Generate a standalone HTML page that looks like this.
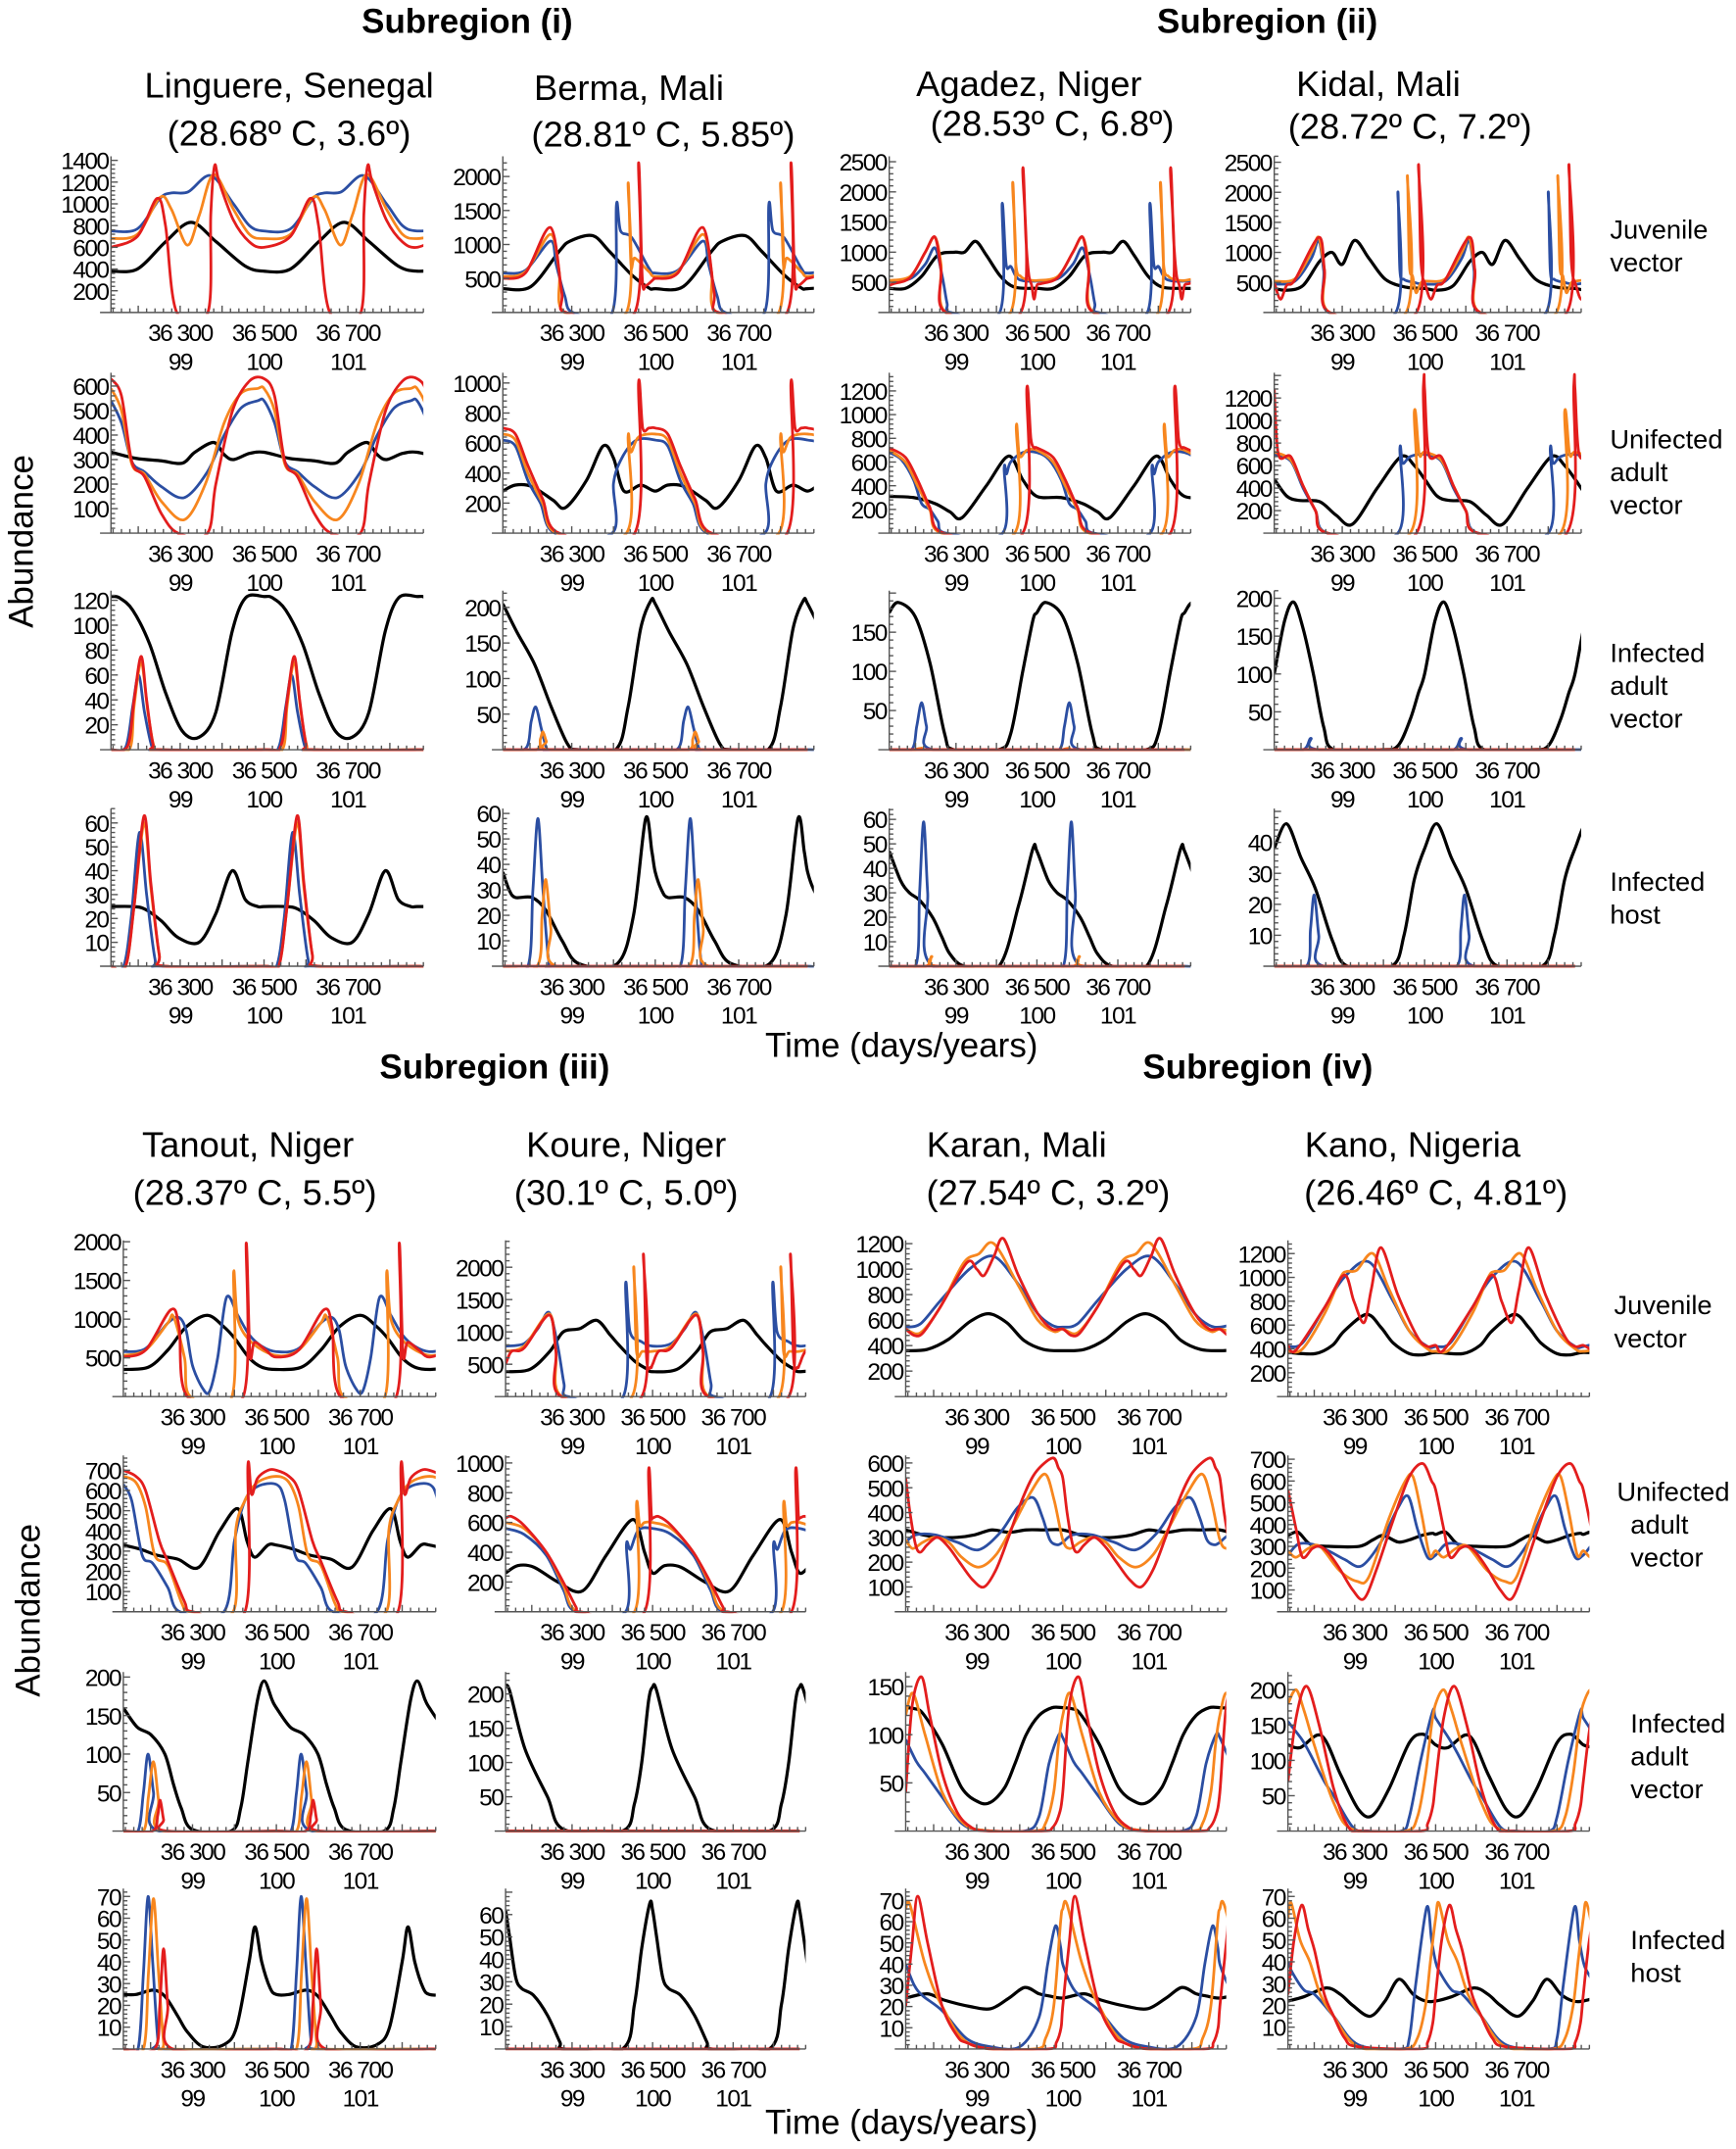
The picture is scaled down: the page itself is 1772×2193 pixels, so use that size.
<!DOCTYPE html>
<html><head><meta charset="utf-8">
<style>
html,body{margin:0;padding:0;background:#fff;}
svg{display:block;}
text{font-family:"Liberation Sans",Arial,sans-serif;fill:#000;}
.tk{font-size:17.5px;letter-spacing:-1.1px;}
.ttl{font-size:26px;}
.hdr{font-size:25px;font-weight:bold;}
.rl{font-size:19.5px;}
.ax{font-size:25px;}
</style></head>
<body>
<svg id="fig" width="1772" height="2193" viewBox="0 0 1267 1568" preserveAspectRatio="none" xmlns="http://www.w3.org/2000/svg">
<text class="hdr" x="341" y="24" text-anchor="middle">Subregion (i)</text>
<text class="hdr" x="925" y="24" text-anchor="middle">Subregion (ii)</text>
<text class="hdr" x="361" y="787" text-anchor="middle">Subregion (iii)</text>
<text class="hdr" x="918" y="787" text-anchor="middle">Subregion (iv)</text>

<g>
<text class="ttl" x="211" y="71" text-anchor="middle">Linguere, Senegal</text>
<text class="ttl" x="211" y="106" text-anchor="middle">(28.68º C, 3.6º)</text>
<text class="ttl" x="459" y="73" text-anchor="middle">Berma,  Mali</text>
<text class="ttl" x="484" y="107" text-anchor="middle">(28.81º C, 5.85º)</text>
<text class="ttl" x="751" y="70" text-anchor="middle">Agadez, Niger</text>
<text class="ttl" x="768" y="99" text-anchor="middle">(28.53º C, 6.8º)</text>
<text class="ttl" x="1006" y="70" text-anchor="middle">Kidal, Mali</text>
<text class="ttl" x="1029" y="101" text-anchor="middle">(28.72º C, 7.2º)</text>
<text class="ttl" x="181" y="844" text-anchor="middle">Tanout, Niger</text>
<text class="ttl" x="186" y="879" text-anchor="middle">(28.37º C, 5.5º)</text>
<text class="ttl" x="457" y="844" text-anchor="middle">Koure, Niger</text>
<text class="ttl" x="457" y="879" text-anchor="middle">(30.1º C, 5.0º)</text>
<text class="ttl" x="742" y="844" text-anchor="middle">Karan, Mali</text>
<text class="ttl" x="765" y="879" text-anchor="middle">(27.54º C, 3.2º)</text>
<text class="ttl" x="1031" y="844" text-anchor="middle">Kano, Nigeria</text>
<text class="ttl" x="1048" y="879" text-anchor="middle">(26.46º C, 4.81º)</text>
</g>

<g>
<text class="rl" x="1175" y="174">Juvenile<tspan x="1175" dy="24">vector</tspan></text>
<text class="rl" x="1175" y="327">Unifected<tspan x="1175" dy="24">adult</tspan><tspan x="1175" dy="24">vector</tspan></text>
<text class="rl" x="1175" y="483">Infected<tspan x="1175" dy="24">adult</tspan><tspan x="1175" dy="24">vector</tspan></text>
<text class="rl" x="1175" y="650">Infected<tspan x="1175" dy="24">host</tspan></text>
<text class="rl" x="1178" y="959">Juvenile<tspan x="1178" dy="24">vector</tspan></text>
<text class="rl" x="1180" y="1095">Unifected<tspan x="1190" dy="24">adult</tspan><tspan x="1190" dy="24">vector</tspan></text>
<text class="rl" x="1190" y="1264">Infected<tspan x="1190" dy="24">adult</tspan><tspan x="1190" dy="24">vector</tspan></text>
<text class="rl" x="1190" y="1422">Infected<tspan x="1190" dy="24">host</tspan></text>
</g>

<text class="ax" transform="translate(24,395) rotate(-90)" text-anchor="middle">Abundance</text>
<text class="ax" transform="translate(29,1175) rotate(-90)" text-anchor="middle">Abundance</text>
<text class="ax" x="658" y="771" text-anchor="middle">Time (days/years)</text>
<text class="ax" x="658" y="1557" text-anchor="middle">Time (days/years)</text>
<g id="panels"></g>
</svg>
<script>
// ---- data: [day within yearly cycle, abundance] ----
const linguereJuvBlack=[[0,380],[63,400],[130,650],[191,830],[251,650],[319,430],[365,380]];
const linguereJuvBlue=[[0,750],[63,770],[117,1050],[144,1100],[184,1110],[238,1260],[292,1000],[330,800],[365,750]];
const linguereJuvOrange=[[0,680],[63,720],[117,1060],[144,950],[182,620],[211,900],[245,1270],[292,950],[330,720],[365,680]];
const linguereJuvRed=[[0,600],[63,700],[110,1050],[130,800],[157,0],[231,0],[238,900],[247,1350],[258,1200],[292,850],[330,650],[365,600]];

const bermaJuvBlack=[[0,350],[67,380],[135,900],[161,1050],[215,1130],[255,900],[309,550],[350,360],[365,350]];
const bermaJuvBlue=[[0,580],[54,620],[114,1050],[128,700],[148,250],[168,0],[262,0],[272,1580],[282,1200],[309,1100],[350,650],[365,580]];
const bermaJuvOrange=[[0,530],[54,600],[114,1150],[135,600],[148,0],[296,0],[300,1900],[307,700],[316,800],[350,600],[365,530]];
const bermaJuvRed=[[0,500],[54,580],[114,1250],[141,300],[152,0],[316,0],[325,2200],[334,500],[343,400],[363,500],[365,500]];

const agadezJuvBlack=[[0,400],[40,400],[80,600],[120,950],[162,1000],[186,1000],[213,1180],[240,950],[275,600],[310,420],[365,400]];
const agadezJuvBlue=[[0,520],[52,560],[89,800],[113,1070],[131,600],[143,150],[152,0],[273,0],[279,1800],[289,800],[301,760],[320,550],[365,520]];
const agadezJuvOrange=[[0,530],[52,600],[89,1000],[113,1250],[128,800],[140,0],[300,0],[305,2150],[313,800],[325,600],[340,550],[365,530]];
const agadezJuvRed=[[0,450],[12,480],[52,580],[89,1000],[113,1250],[128,700],[140,0],[325,0],[330,2380],[338,1200],[345,620],[352,450],[358,220],[365,450]];

const kidalJuvBlack=[[0,400],[30,370],[70,450],[110,850],[140,1000],[165,800],[195,1200],[230,900],[270,550],[320,420],[365,400]];
const kidalJuvBlue=[[0,470],[50,520],[90,900],[108,1200],[120,700],[132,0],[295,0],[300,2000],[305,700],[315,550],[340,500],[365,470]];
const kidalJuvOrange=[[0,520],[50,560],[90,1000],[108,1250],[122,700],[135,0],[320,0],[323,2270],[328,800],[336,600],[344,330],[355,480],[365,520]];
const kidalJuvRed=[[0,500],[15,220],[30,450],[50,540],[108,1250],[122,700],[135,0],[345,0],[350,2450],[355,1000],[360,600],[365,500]];

const linguereUninfBlack=[[0,330],[60,305],[120,295],[170,285],[200,330],[245,370],[270,320],[292,300],[330,325],[365,330]];
const linguereUninfBlue=[[0,540],[25,450],[50,290],[80,250],[120,190],[175,145],[230,250],[270,400],[310,510],[350,540],[365,540]];
const linguereUninfOrange=[[0,590],[25,500],[50,280],[80,240],[120,130],[175,55],[225,200],[270,450],[310,570],[350,590],[365,590]];
const linguereUninfRed=[[0,630],[25,560],[50,290],[80,230],[120,80],[160,0],[230,0],[250,200],[290,500],[330,620],[365,630]];

const bermaUninfBlack=[[0,280],[30,320],[70,310],[120,220],[150,170],[200,350],[240,580],[265,500],[290,280],[330,320],[365,280]];
const bermaUninfBlue=[[0,620],[30,580],[60,350],[90,200],[125,0],[262,0],[265,330],[285,500],[320,620],[365,620]];
const bermaUninfOrange=[[0,660],[30,620],[60,400],[95,200],[130,0],[296,0],[300,640],[307,540],[325,640],[365,660]];
const bermaUninfRed=[[0,700],[30,660],[60,450],[95,230],[135,0],[316,0],[325,1000],[335,700],[350,700],[365,700]];

const agadezUninfBlack=[[0,310],[60,300],[113,250],[150,180],[180,130],[240,400],[295,650],[330,450],[365,310]];
const agadezUninfBlue=[[0,680],[30,620],[60,450],[80,250],[100,200],[120,100],[140,0],[280,0],[284,550],[290,500],[300,600],[330,680],[365,680]];
const agadezUninfOrange=[[0,700],[40,600],[70,400],[100,200],[130,0],[310,0],[314,900],[322,650],[340,700],[365,700]];
const agadezUninfRed=[[0,720],[40,640],[70,450],[100,220],[135,0],[330,0],[340,1220],[350,800],[358,720],[365,720]];

const kidalUninfBlack=[[0,480],[30,330],[60,290],[110,280],[150,160],[190,80],[250,400],[308,680],[340,600],[365,480]];
const kidalUninfBlue=[[0,700],[40,640],[70,400],[100,200],[130,0],[300,0],[305,750],[312,620],[330,680],[365,700]];
const kidalUninfOrange=[[0,720],[40,650],[70,420],[100,200],[130,0],[330,0],[340,1080],[352,700],[365,720]];
const kidalUninfRed=[[0,1280],[10,700],[40,680],[70,420],[100,200],[130,0],[345,0],[362,1300],[365,1280]];

const linguereIVBlack=[[0,123],[20,122],[52,112],[92,85],[131,45],[170,15],[210,10],[250,30],[289,95],[321,122],[365,123]];
const linguereIVBlue=[[0,0],[35,2],[52,35],[66,60],[80,30],[98,2],[115,0],[365,0]];
const linguereIVOrange=[[0,0],[45,1],[55,35],[72,70],[88,30],[102,3],[115,0],[365,0]];
const linguereIVRed=[[0,0],[40,3],[55,40],[72,75],[85,40],[100,5],[115,0],[365,0]];

const bermaIVBlack=[[0,205],[34,165],[76,120],[116,60],[155,8],[180,0],[270,0],[300,60],[330,170],[355,210],[365,205]];
const bermaIVBlue=[[0,0],[55,2],[68,40],[79,60],[92,30],[105,2],[120,0],[365,0]];
const bermaIVOrange=[[0,0],[80,0],[90,15],[96,25],[104,12],[115,0],[365,0]];
const bermaIVRed=[[0,0],[365,0]];

const agadezIVBlack=[[0,175],[22,188],[64,170],[101,110],[137,20],[160,0],[270,0],[300,20],[330,100],[355,165],[365,175]];
const agadezIVBlue=[[0,0],[55,0],[68,30],[80,60],[92,30],[108,0],[365,0]];
const agadezIVOrange=[[0,0],[70,0],[80,2],[90,0],[365,0]];
const agadezIVRed=[[0,0],[365,0]];

const kidalIVBlack=[[0,100],[25,170],[47,195],[70,160],[95,100],[120,30],[145,0],[260,0],[300,5],[330,40],[350,75],[365,100]];
const kidalIVBlue=[[0,0],[70,0],[89,15],[108,0],[365,0]];
const kidalIVOrange=[[0,0],[365,0]];
const kidalIVRed=[[0,0],[365,0]];

const linguereHostBlack=[[0,25],[50,25],[80,24],[120,19],[160,12],[210,10],[250,22],[289,40],[320,28],[350,25],[365,25]];
const linguereHostBlue=[[0,0],[30,0],[48,20],[68,56],[85,30],[105,3],[120,0],[365,0]];
const linguereHostOrange=[[0,0],[35,0],[55,25],[79,60],[95,33],[115,5],[130,0],[365,0]];
const linguereHostRed=[[0,0],[35,0],[55,25],[79,63],[95,35],[115,5],[130,0],[365,0]];

const bermaHostBlack=[[0,37],[15,30],[30,27],[70,27],[103,22],[142,10],[182,1],[274,1],[313,20],[342,58],[357,45],[365,37]];
const bermaHostBlue=[[0,0],[60,0],[72,30],[84,58],[96,30],[110,2],[125,0],[365,0]];
const bermaHostOrange=[[0,0],[82,0],[94,20],[103,34],[115,15],[128,0],[365,0]];
const bermaHostRed=[[0,0],[365,0]];

const agadezHostBlack=[[0,47],[28,35],[50,30],[75,27],[107,20],[130,12],[150,5],[186,0],[271,0],[320,25],[355,48],[365,47]];
const agadezHostBlue=[[0,0],[65,0],[75,30],[85,59],[95,30],[108,0],[365,0]];
const agadezHostOrange=[[0,0],[90,0],[105,4],[120,0],[365,0]];
const agadezHostRed=[[0,0],[365,0]];

const kidalHostBlack=[[0,38],[30,46],[65,35],[100,25],[142,8],[178,0],[285,0],[315,10],[340,28],[365,38]];
const kidalHostBlue=[[0,0],[78,0],[88,12],[97,23],[108,10],[120,0],[365,0]];
const kidalHostOrange=[[0,0],[365,0]];
const kidalHostRed=[[0,0],[365,0]];

const tanoutJuvBlack=[[0,350],[60,380],[106,600],[150,900],[200,1050],[240,900],[266,750],[300,500],[330,380],[365,350]];
const tanoutJuvBlue=[[0,580],[53,620],[106,950],[133,1020],[150,850],[165,400],[190,100],[206,70],[225,500],[246,1280],[273,1050],[300,800],[330,650],[365,580]];
const tanoutJuvOrange=[[0,530],[53,600],[106,950],[120,1030],[146,500],[160,0],[259,0],[263,1600],[273,1000],[306,700],[365,530]];
const tanoutJuvRed=[[0,510],[53,600],[113,1120],[133,900],[153,0],[286,0],[293,1980],[302,550],[313,700],[340,600],[365,510]];

const koureJuvBlack=[[0,385],[60,420],[110,700],[143,1000],[184,1050],[226,1180],[260,950],[281,800],[320,550],[350,430],[365,385]];
const koureJuvBlue=[[0,780],[46,820],[80,1050],[108,1300],[129,800],[145,200],[155,0],[292,0],[298,1750],[309,1000],[337,850],[365,780]];
const koureJuvOrange=[[0,700],[46,780],[108,1280],[125,700],[140,0],[314,0],[318,2000],[325,700],[340,700],[365,700]];
const koureJuvRed=[[0,500],[15,700],[46,750],[108,1260],[125,700],[138,0],[338,0],[342,2200],[350,600],[360,450],[365,500]];

const karanJuvBlack=[[0,360],[50,370],[100,450],[150,590],[193,650],[235,580],[275,440],[320,370],[365,360]];
const karanJuvBlue=[[0,545],[34,570],[80,750],[148,1000],[205,1100],[262,880],[307,650],[340,560],[365,545]];
const karanJuvOrange=[[0,530],[34,500],[80,700],[135,1050],[170,1120],[205,1200],[262,870],[307,600],[345,510],[365,530]];
const karanJuvRed=[[0,530],[20,480],[40,500],[80,700],[142,1050],[165,1000],[182,950],[205,1100],[227,1240],[262,950],[307,650],[340,530],[365,530]];

const kanoJuvBlack=[[0,370],[67,360],[110,430],[139,550],[194,690],[230,580],[260,450],[300,360],[333,350],[365,370]];
const kanoJuvBlue=[[0,420],[36,450],[91,750],[139,1000],[200,1130],[260,800],[300,550],[345,420],[365,420]];
const kanoJuvOrange=[[0,380],[36,400],[91,700],[130,1000],[145,1050],[170,1060],[210,1200],[250,900],[300,550],[345,400],[365,380]];
const kanoJuvRed=[[0,430],[20,390],[91,750],[139,1020],[163,800],[188,620],[206,900],[230,1250],[272,850],[320,500],[345,420],[365,430]];

const tanoutUninfBlack=[[0,330],[40,310],[80,280],[130,260],[180,220],[230,400],[273,510],[295,350],[313,270],[345,330],[365,330]];
const tanoutUninfBlue=[[0,630],[20,550],[45,280],[70,240],[106,120],[135,0],[240,0],[265,350],[290,550],[320,620],[365,630]];
const tanoutUninfOrange=[[0,670],[30,640],[53,520],[75,280],[106,230],[140,40],[160,0],[262,0],[268,400],[290,550],[320,640],[365,670]];
const tanoutUninfRed=[[0,700],[30,670],[53,600],[86,350],[106,250],[146,50],[166,0],[290,0],[297,720],[306,580],[320,660],[345,700],[365,700]];

const koureUninfBlack=[[0,260],[30,310],[70,300],[130,200],[191,140],[250,380],[316,620],[345,400],[365,260]];
const koureUninfBlue=[[0,560],[46,520],[101,380],[143,150],[175,0],[298,0],[300,450],[310,420],[330,550],[365,560]];
const koureUninfOrange=[[0,600],[46,560],[101,400],[143,180],[180,0],[320,0],[325,720],[333,580],[345,600],[365,600]];
const koureUninfRed=[[0,630],[15,640],[46,580],[101,400],[143,200],[175,30],[185,0],[345,0],[355,950],[362,650],[365,630]];

const karanUninfBlack=[[0,330],[40,310],[80,300],[120,300],[160,310],[200,330],[240,320],[280,330],[320,330],[365,330]];
const karanUninfBlue=[[0,280],[23,310],[68,310],[120,280],[170,250],[220,320],[260,420],[296,460],[318,380],[335,290],[352,270],[365,280]];
const karanUninfOrange=[[0,290],[16,255],[40,280],[68,300],[100,280],[130,220],[170,180],[210,230],[250,350],[290,480],[324,555],[345,450],[365,290]];
const karanUninfRed=[[0,540],[10,400],[23,270],[34,240],[50,270],[74,300],[100,260],[125,200],[155,130],[182,100],[210,170],[239,300],[270,450],[301,560],[341,620],[355,580],[365,540]];

const kanoUninfBlack=[[0,350],[25,365],[55,310],[100,300],[176,300],[210,330],[236,350],[272,320],[300,330],[330,350],[357,360],[365,355]];
const kanoUninfBlue=[[0,260],[25,310],[60,310],[100,280],[140,240],[182,210],[230,320],[270,470],[297,530],[320,380],[345,250],[365,260]];
const kanoUninfOrange=[[0,280],[20,250],[50,290],[79,300],[127,190],[170,140],[200,160],[250,430],[290,600],[309,620],[330,450],[350,260],[365,280]];
const kanoUninfRed=[[0,560],[20,380],[36,250],[60,290],[79,300],[100,270],[127,200],[160,100],[188,60],[220,200],[260,420],[300,620],[333,680],[355,600],[365,560]];

const tanoutIVBlack=[[0,160],[33,135],[66,125],[99,100],[120,60],[138,30],[165,2],[257,0],[280,30],[297,90],[320,170],[336,195],[355,170],[365,160]];
const tanoutIVBlue=[[0,0],[35,0],[48,50],[59,100],[72,50],[85,0],[365,0]];
const tanoutIVOrange=[[0,0],[48,0],[60,45],[72,90],[84,40],[96,0],[365,0]];
const tanoutIVRed=[[0,0],[70,0],[82,20],[88,40],[96,15],[105,0],[365,0]];

const koureIVBlack=[[0,210],[10,205],[48,120],[104,50],[145,2],[290,0],[320,40],[338,100],[355,190],[365,210]];
const koureIVBlue=[[0,0],[365,0]];
const koureIVOrange=[[0,0],[365,0]];
const koureIVRed=[[0,0],[365,0]];

const karanIVBlack=[[0,128],[20,127],[40,122],[85,90],[130,45],[170,30],[198,30],[230,45],[254,70],[280,100],[310,120],[340,128],[365,128]];
const karanIVBlue=[[0,95],[25,72],[45,60],[85,35],[130,8],[175,1],[277,0],[310,15],[333,70],[356,100],[365,97]];
const karanIVOrange=[[0,120],[17,143],[45,100],[85,40],[130,10],[175,1],[300,0],[325,8],[344,40],[355,90],[365,120]];
const karanIVRed=[[0,40],[15,130],[37,160],[56,120],[85,60],[119,20],[152,4],[190,0],[320,0],[340,3],[355,15],[365,40]];

const kanoIVBlack=[[0,122],[30,118],[83,135],[130,80],[175,30],[209,22],[250,60],[300,125],[334,137],[365,122]];
const kanoIVBlue=[[0,155],[34,130],[54,110],[90,70],[113,50],[161,5],[200,0],[280,0],[300,20],[328,100],[358,170],[365,160]];
const kanoIVOrange=[[0,180],[20,200],[40,170],[66,120],[113,40],[161,2],[290,0],[320,20],[340,80],[355,150],[365,180]];
const kanoIVRed=[[0,70],[20,160],[46,205],[77,150],[113,60],[149,6],[185,0],[330,0],[345,10],[358,35],[365,70]];

const tanoutHostBlack=[[0,25],[30,25],[72,27],[100,24],[130,15],[152,8],[190,1],[240,2],[270,10],[300,40],[314,56],[330,40],[350,28],[365,25]];
const tanoutHostBlue=[[0,0],[35,0],[48,35],[59,70],[70,40],[82,5],[92,0],[365,0]];
const tanoutHostOrange=[[0,0],[48,0],[60,35],[72,69],[84,35],[96,3],[106,0],[365,0]];
const tanoutHostRed=[[0,0],[75,0],[87,20],[96,46],[106,20],[118,0],[365,0]];

const koureHostBlack=[[0,62],[10,50],[25,32],[40,27],[69,24],[104,15],[135,3],[145,0],[290,0],[320,20],[338,45],[358,65],[365,62]];
const koureHostBlue=[[0,0],[365,0]];
const koureHostOrange=[[0,0],[365,0]];
const koureHostRed=[[0,0],[365,0]];

const karanHostBlack=[[0,24],[50,26],[90,23],[150,20],[198,19],[240,24],[277,29],[310,26],[333,25],[365,24]];
const karanHostBlue=[[0,40],[20,30],[40,25],[85,18],[141,5],[198,1],[265,1],[310,15],[330,40],[348,58],[360,48],[365,40]];
const karanHostOrange=[[0,66],[10,68],[45,40],[85,20],[152,2],[300,0],[325,5],[344,20],[360,60],[365,66]];
const karanHostRed=[[0,20],[15,50],[28,72],[51,50],[85,20],[120,6],[141,3],[198,0],[333,0],[350,3],[361,10],[365,20]];

const kanoHostBlack=[[0,22],[40,24],[95,28],[130,25],[160,20],[203,15],[240,22],[274,32],[310,25],[340,22],[365,22]];
const kanoHostBlue=[[0,40],[11,35],[40,27],[66,25],[113,15],[173,2],[280,0],[300,5],[316,30],[343,65],[355,50],[365,40]];
const kanoHostOrange=[[0,60],[8,67],[30,50],[54,40],[80,25],[113,15],[173,1],[290,0],[320,5],[340,20],[352,40],[365,60]];
const kanoHostRed=[[0,25],[15,50],[34,66],[50,55],[66,45],[90,25],[113,15],[140,5],[173,1],[328,0],[345,3],[358,12],[365,25]];

// y tick labels per panel
const ticksA1=[200,400,600,800,1000,1200,1400], ticksA2=[500,1000,1500,2000], ticksA3=[500,1000,1500,2000,2500], ticksA4=[500,1000,1500,2000,2500];
const ticksB1=[100,200,300,400,500,600], ticksB2=[200,400,600,800,1000], ticksB3=[200,400,600,800,1000,1200], ticksB4=[200,400,600,800,1000,1200];
const ticksC1=[20,40,60,80,100,120], ticksC2=[50,100,150,200], ticksC3=[50,100,150], ticksC4=[50,100,150,200];
const ticksD1=[10,20,30,40,50,60], ticksD2=[10,20,30,40,50,60], ticksD3=[10,20,30,40,50,60], ticksD4=[10,20,30,40];
const ticksE1=[500,1000,1500,2000], ticksE2=[500,1000,1500,2000], ticksE3=[200,400,600,800,1000,1200], ticksE4=[200,400,600,800,1000,1200];
const ticksF1=[100,200,300,400,500,600,700], ticksF2=[200,400,600,800,1000], ticksF3=[100,200,300,400,500,600], ticksF4=[100,200,300,400,500,600,700];
const ticksG1=[50,100,150,200], ticksG2=[50,100,150,200], ticksG3=[50,100,150], ticksG4=[50,100,150,200];
const ticksH1=[10,20,30,40,50,60,70], ticksH2=[10,20,30,40,50,60], ticksH3=[10,20,30,40,50,60,70], ticksH4=[10,20,30,40,50,60,70];
const xTickDays=[36300,36500,36700];
const xTickLabels=["36 300","36 500","36 700"];
const xYearLabels=["99","100","101"];
const DAY_START=36135, DAY_END=36880, PERIOD=365;

// ---- layout ----
const colsTop=[[81,309],[367,594],[649,869],[930,1154]];
const colsBot=[[90,318],[369,588],[661,895],[940,1160]];
const rowsTop=[[228,114],[389,272],[547,431],[705,590]];
const rowsBot=[[1019,905],[1176,1062],[1336,1220],[1495,1378]];
const panels=[
 ['linguere-juvenile',0,0,1,1438,ticksA1,[linguereJuvBlack,linguereJuvBlue,linguereJuvOrange,linguereJuvRed]],
 ['berma-juvenile',1,0,1,2298,ticksA2,[bermaJuvBlack,bermaJuvBlue,bermaJuvOrange,bermaJuvRed]],
 ['agadez-juvenile',2,0,1,2591,ticksA3,[agadezJuvBlack,agadezJuvBlue,agadezJuvOrange,agadezJuvRed]],
 ['kidal-juvenile',3,0,1,2600,ticksA4,[kidalJuvBlack,kidalJuvBlue,kidalJuvOrange,kidalJuvRed]],
 ['linguere-uninfected',0,1,1,654,ticksB1,[linguereUninfBlack,linguereUninfBlue,linguereUninfOrange,linguereUninfRed]],
 ['berma-uninfected',1,1,1,1068,ticksB2,[bermaUninfBlack,bermaUninfBlue,bermaUninfOrange,bermaUninfRed]],
 ['agadez-uninfected',2,1,1,1353,ticksB3,[agadezUninfBlack,agadezUninfBlue,agadezUninfOrange,agadezUninfRed]],
 ['kidal-uninfected',3,1,1,1424,ticksB4,[kidalUninfBlack,kidalUninfBlue,kidalUninfOrange,kidalUninfRed]],
 ['linguere-infected-vector',0,2,1,127.7,ticksC1,[linguereIVBlack,linguereIVBlue,linguereIVOrange,linguereIVRed]],
 ['berma-infected-vector',1,2,1,223.5,ticksC2,[bermaIVBlack,bermaIVBlue,bermaIVOrange,bermaIVRed]],
 ['agadez-infected-vector',2,2,1,203,ticksC3,[agadezIVBlack,agadezIVBlue,agadezIVOrange,agadezIVRed]],
 ['kidal-infected-vector',3,2,1,210,ticksC4,[kidalIVBlack,kidalIVBlue,kidalIVOrange,kidalIVRed]],
 ['linguere-infected-host',0,3,1,66,ticksD1,[linguereHostBlack,linguereHostBlue,linguereHostOrange,linguereHostRed]],
 ['berma-infected-host',1,3,1,61.9,ticksD2,[bermaHostBlack,bermaHostBlue,bermaHostOrange,bermaHostRed]],
 ['agadez-infected-host',2,3,1,64.4,ticksD3,[agadezHostBlack,agadezHostBlue,agadezHostOrange,agadezHostRed]],
 ['kidal-infected-host',3,3,1,50.9,ticksD4,[kidalHostBlack,kidalHostBlue,kidalHostOrange,kidalHostRed]],
 ['tanout-juvenile',0,0,0,2018,ticksE1,[tanoutJuvBlack,tanoutJuvBlue,tanoutJuvOrange,tanoutJuvRed]],
 ['koure-juvenile',1,0,0,2416,ticksE2,[koureJuvBlack,koureJuvBlue,koureJuvOrange,koureJuvRed]],
 ['karan-juvenile',2,0,0,1226,ticksE3,[karanJuvBlack,karanJuvBlue,karanJuvOrange,karanJuvRed]],
 ['kano-juvenile',3,0,0,1311,ticksE4,[kanoJuvBlack,kanoJuvBlue,kanoJuvOrange,kanoJuvRed]],
 ['tanout-uninfected',0,1,0,773,ticksF1,[tanoutUninfBlack,tanoutUninfBlue,tanoutUninfOrange,tanoutUninfRed]],
 ['koure-uninfected',1,1,0,1050,ticksF2,[koureUninfBlack,koureUninfBlue,koureUninfOrange,koureUninfRed]],
 ['karan-uninfected',2,1,0,630,ticksF3,[karanUninfBlack,karanUninfBlue,karanUninfOrange,karanUninfRed]],
 ['kano-uninfected',3,1,0,717,ticksF4,[kanoUninfBlack,kanoUninfBlue,kanoUninfOrange,kanoUninfRed]],
 ['tanout-infected-vector',0,2,0,206.5,ticksG1,[tanoutIVBlack,tanoutIVBlue,tanoutIVOrange,tanoutIVRed]],
 ['koure-infected-vector',1,2,0,232,ticksG2,[koureIVBlack,koureIVBlue,koureIVOrange,koureIVRed]],
 ['karan-infected-vector',2,2,0,165,ticksG3,[karanIVBlack,karanIVBlue,karanIVOrange,karanIVRed]],
 ['kano-infected-vector',3,2,0,225,ticksG4,[kanoIVBlack,kanoIVBlue,kanoIVOrange,kanoIVRed]],
 ['tanout-infected-host',0,3,0,73.6,ticksH1,[tanoutHostBlack,tanoutHostBlue,tanoutHostOrange,tanoutHostRed]],
 ['koure-infected-host',1,3,0,71.6,ticksH2,[koureHostBlack,koureHostBlue,koureHostOrange,koureHostRed]],
 ['karan-infected-host',2,3,0,75.6,ticksH3,[karanHostBlack,karanHostBlue,karanHostOrange,karanHostRed]],
 ['kano-infected-host',3,3,0,73.6,ticksH4,[kanoHostBlack,kanoHostBlue,kanoHostOrange,kanoHostRed]]
];
const seriesNames=['black','blue','orange','red'];
const seriesColors=['#000000','#2b4ea2','#f7861e','#e31d1d'];
const seriesWidths=[2.3,2.0,2.0,2.0];

const NS='http://www.w3.org/2000/svg';
const root=document.getElementById('panels');
function mk(tag,attrs,parent){const e=document.createElementNS(NS,tag);for(const k in attrs)e.setAttribute(k,attrs[k]);parent.appendChild(e);return e;}

function smoothPath(pts){
  if(pts.length<2)return '';
  let d='M'+pts[0][0].toFixed(2)+','+pts[0][1].toFixed(2);
  for(let i=0;i<pts.length-1;i++){
    const p0=pts[i-1]||pts[i],p1=pts[i],p2=pts[i+1],p3=pts[i+2]||p2;
    const t=0.16;
    const c1x=p1[0]+(p2[0]-p0[0])*t,c1y=p1[1]+(p2[1]-p0[1])*t;
    const c2x=p2[0]-(p3[0]-p1[0])*t,c2y=p2[1]-(p3[1]-p1[1])*t;
    d+='C'+c1x.toFixed(2)+','+c1y.toFixed(2)+' '+c2x.toFixed(2)+','+c2y.toFixed(2)+' '+p2[0].toFixed(2)+','+p2[1].toFixed(2);
  }
  return d;
}

panels.forEach((p,pi)=>{
  const [name,ci,ri,top,vmax,ticks,series]=p;
  const [x0,x1]=(top?colsTop:colsBot)[ci];
  const [yZ,yT]=(top?rowsTop:rowsBot)[ri];
  const g=mk('g',{},root);
  
  
  const xs=day=>x0+(day-DAY_START)/(DAY_END-DAY_START)*(x1-x0);
  const ys=v=>yZ-v/vmax*(yZ-yT);
  const cid='clip'+pi;
  const cp=mk('clipPath',{id:cid},g);
  mk('rect',{x:x0,y:yT-12,width:x1-x0,height:yZ-yT+13},cp);
  const sg=mk('g',{'clip-path':'url(#'+cid+')'},g);
  series.forEach((arr,si)=>{
    const pts=[];
    for(let k=0;k<3;k++){
      arr.forEach((pt,j)=>{
        if(k>0&&j===0)return;
        const day=DAY_START+pt[0]+k*PERIOD;
        if(day>DAY_END+60)return;
        pts.push([xs(day),ys(pt[1])]);
      });
    }
    const path=mk('path',{d:smoothPath(pts),fill:'none',stroke:seriesColors[si],'stroke-width':seriesWidths[si],'stroke-linejoin':'round'},sg);
    
    
  });
  const ax=mk('g',{stroke:'#555','stroke-width':1},g);
  
  
  mk('line',{x1:x0-8,y1:yZ,x2:x1,y2:yZ},ax);
  mk('line',{x1:x0,y1:yZ,x2:x0,y2:yT},ax);
  for(let d=36140;d<=DAY_END;d+=20){
    const X=xs(d);const big=(d%100===0);
    mk('line',{x1:X,y1:yZ,x2:X,y2:yZ-(big?5:3)},ax);
  }
  const step=ticks[1]-ticks[0];
  for(let v=step/5;v<=vmax;v+=step/5){
    const Y=ys(v);const big=Math.abs(v/step-Math.round(v/step))<1e-6;
    mk('line',{x1:x0,y1:Y,x2:x0+(big?5:3),y2:Y},ax);
  }
  ticks.forEach(v=>{
    const t=mk('text',{x:x0-2,y:ys(v)+6.5,'text-anchor':'end',class:'tk'},g);
    t.textContent=v;
    
    
  });
  xTickDays.forEach((d,i)=>{
    const t=mk('text',{x:xs(d),y:yZ+21,'text-anchor':'middle',class:'tk'},g);
    t.textContent=xTickLabels[i];
    
    
    const t2=mk('text',{x:xs(d),y:yZ+42,'text-anchor':'middle',class:'tk'},g);
    t2.textContent=xYearLabels[i];
    
    
  });
});
</script>
</body></html>
